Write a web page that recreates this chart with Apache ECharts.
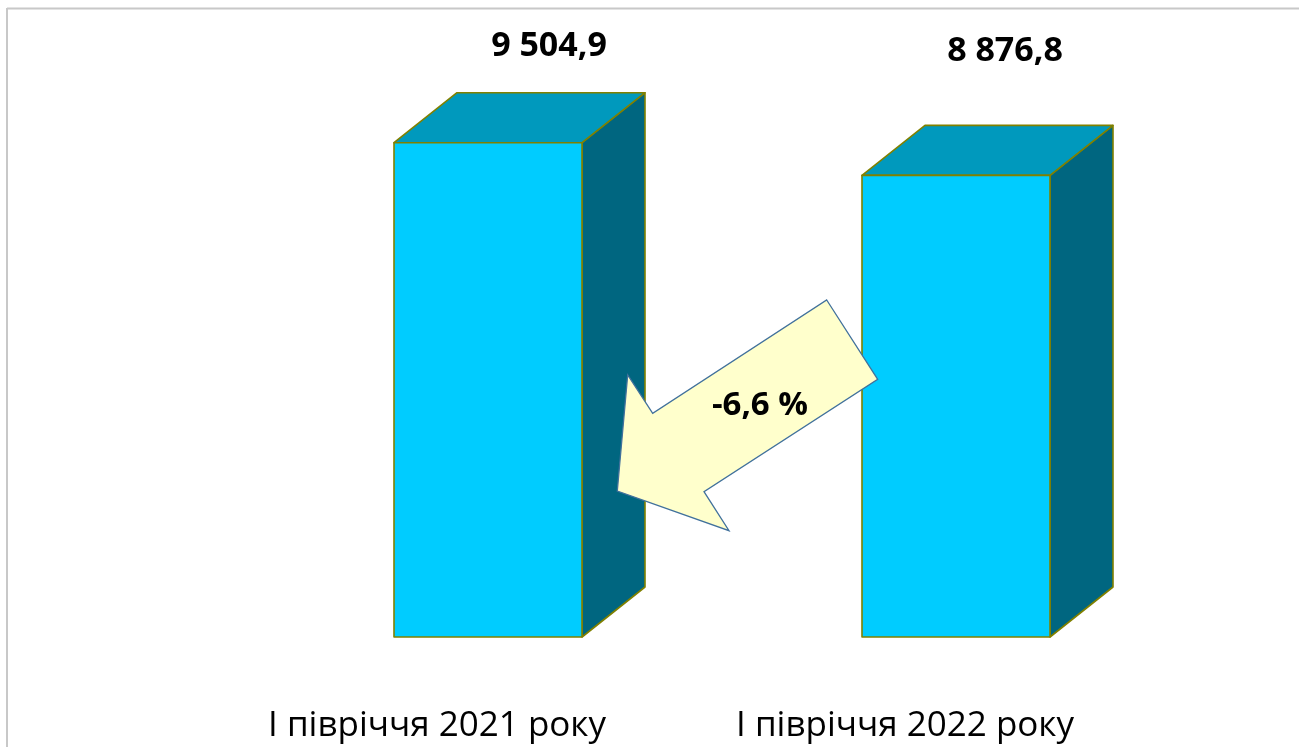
<!DOCTYPE html>
<html>
<head>
<meta charset="utf-8">
<script src="https://cdn.jsdelivr.net/npm/echarts@6/dist/echarts.min.js"></script>
<style>
html,body{margin:0;padding:0;background:#fff;}
#main{width:1299px;height:747px;}
</style>
</head>
<body>
<div id="main"></div>
<script>
// ---- data ----
const categories = ['І півріччя 2021 року', 'І півріччя 2022 року'];
const values = [9504.9, 8876.8];
const changeLabel = '-6,6 %';

// ---- style constants ----
const FRONT = '#00CCFF', TOP = '#0099BD', SIDE = '#006680', EDGE = '#808000';
const BAR_W = 188, BAR_SHIFT = 51, DEPTH_X = 63, DEPTH_Y = -50;
const labelNudge = [[112, -96], [100, -124]];

function fmt(v) {
  const parts = v.toFixed(1).split('.');
  return parts[0].replace(/\B(?=(\d{3})+(?!\d))/g, ' ') + ',' + parts[1];
}

const chart = echarts.init(document.getElementById('main'));
chart.setOption({
  backgroundColor: '#fff',
  animation: false,
  grid: { left: 203, right: 160, top: 117, bottom: 110 },
  xAxis: {
    type: 'category',
    data: categories,
    axisLine: { show: false },
    axisTick: { show: false },
    axisLabel: {
      margin: 72,
      fontFamily: 'Open Sans',
      fontSize: 35,
      color: '#000'
    }
  },
  yAxis: {
    type: 'value', min: 0, max: 10000,
    show: false, splitLine: { show: false }
  },
  series: [{
    type: 'custom',
    z: 2,
    data: values.map((v, i) => [i, v]),
    encode: { x: 0, y: 1 },
    renderItem: function (params, api) {
      const i = api.value(0);
      const v = api.value(1);
      const c = api.coord([i, v]);
      const b = api.coord([i, 0]);
      const L = c[0] + BAR_SHIFT - BAR_W / 2, R = L + BAR_W;
      const T = c[1], B = b[1];
      const es = { stroke: EDGE, lineWidth: 1.6, lineJoin: 'round' };
      return {
        type: 'group',
        children: [
          { type: 'polygon', shape: { points: [[R, T], [R + DEPTH_X, T + DEPTH_Y], [R + DEPTH_X, B + DEPTH_Y], [R, B]] }, style: Object.assign({ fill: SIDE }, es) },
          { type: 'polygon', shape: { points: [[L, T], [R, T], [R + DEPTH_X, T + DEPTH_Y], [L + DEPTH_X, T + DEPTH_Y]] }, style: Object.assign({ fill: TOP }, es) },
          { type: 'rect', shape: { x: L, y: T, width: BAR_W, height: B - T }, style: Object.assign({ fill: FRONT }, es) },
          {
            type: 'text', x: c[0] + labelNudge[i][0], y: T + labelNudge[i][1],
            style: { text: fmt(v), fontFamily: 'Open Sans', fontWeight: 'bold', fontSize: 34, fill: '#000', align: 'center', verticalAlign: 'middle' }
          }
        ]
      };
    }
  }],
  graphic: [
    { type: 'line', z: 1, shape: { x1: 7, y1: 8.5, x2: 1299, y2: 8.5 }, style: { stroke: '#C8C8C8', lineWidth: 2 } },
    { type: 'line', z: 1, shape: { x1: 7, y1: 8, x2: 7, y2: 747 }, style: { stroke: '#C8C8C8', lineWidth: 2 } },
    {
      type: 'polygon', z: 100, zlevel: 1,
      shape: { points: [[826.7, 300], [877.7, 379.3], [704, 491.7], [729, 530.7], [617.3, 491], [627.7, 375], [652.7, 413.3]] },
      style: { fill: '#FFFFCC', stroke: '#41719C', lineWidth: 1.3 }
    },
    {
      type: 'text', z: 101, zlevel: 1, x: 760, y: 406,
      style: { text: changeLabel, fontFamily: 'Open Sans', fontWeight: 'bold', fontSize: 33, fill: '#000', align: 'center', verticalAlign: 'middle' }
    }
  ]
});
</script>
</body>
</html>
